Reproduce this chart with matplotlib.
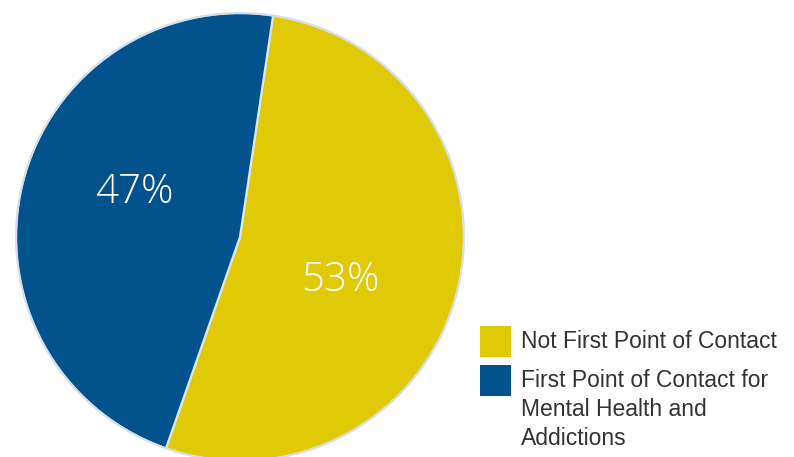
import matplotlib
matplotlib.use("Agg")
import matplotlib.pyplot as plt
from matplotlib.patches import Rectangle

categories = ["Not First Point of Contact",
              "First Point of Contact for\nMental Health and\nAddictions"]
shares = [53, 47]
colors = ["#E0C905", "#02528E"]
label_xy = [(0.449, -0.193), (-0.471, 0.200)]

W, H = 794, 457
fig = plt.figure(figsize=(W / 100, H / 100), dpi=100)

# pie axes: centre (240, 237) px, radius 225 px
cx, cy, r = 240, 237, 225
ax = fig.add_axes([(cx - r) / W, (H - cy - r) / H, 2 * r / W, 2 * r / H])
wedges, _ = ax.pie(shares, colors=colors, startangle=81.5, counterclock=False,
                   radius=1.0,
                   wedgeprops=dict(edgecolor="#DCE6F0", linewidth=1.6))
ax.add_patch(plt.Circle((0, 0), 1.0, fill=False, edgecolor="#D5DEE8", lw=1.2))
ax.set_xlim(-1.005, 1.005)
ax.set_ylim(-1.005, 1.005)
ax.set_aspect("equal")
ax.axis("off")

for val, (x, y) in zip(shares, label_xy):
    ax.text(x, y, f"{val}%", color="white", fontsize=29, ha="center",
            va="center", family="Open Sans", fontweight="light")

# legend
box = 31
sq_x = 480
sq_tops = [326, 365]
text_y = [341, 369]
text_va = ["center", "top"]
for cat, col, top, ty, va in zip(categories, colors, sq_tops, text_y, text_va):
    fig.add_artist(Rectangle((sq_x / W, (H - top - box) / H), box / W, box / H,
                             transform=fig.transFigure, facecolor=col,
                             edgecolor="none"))
    fig.text(521 / W, (H - ty) / H, cat, color="#333333", fontsize=16.5,
             family="Liberation Sans", ha="left", va=va, linespacing=1.33)

fig.savefig("out.png", dpi=100)
